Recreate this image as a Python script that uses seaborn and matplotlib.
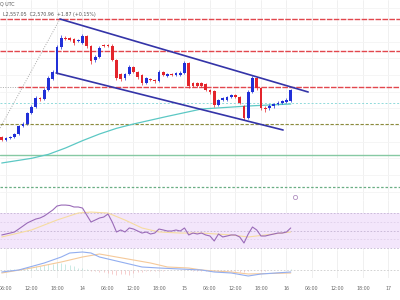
import matplotlib
matplotlib.use("Agg")
import pandas as pd
import seaborn as sns
import matplotlib.pyplot as plt

# hourly candles, hour counted from day 13 00:00 UTC
hours = list(range(5, 74))
opens = [2542.8, 2541.0, 2542.2, 2542.8, 2544.6, 2549.4, 2550.6, 2557.2, 2560.8, 2566.2,
         2565.6, 2571.0, 2577.6, 2581.2, 2596.8, 2602.2, 2602.2, 2601.6, 2600.4, 2599.2,
         2603.4, 2597.4, 2589.0, 2590.8, 2598.0, 2598.0, 2597.4, 2589.0, 2580.6, 2578.2,
         2580.6, 2584.8, 2581.8, 2580.0, 2575.2, 2577.6, 2577.0, 2576.4, 2581.8, 2579.4,
         2580.6, 2580.0, 2580.0, 2581.2, 2587.2, 2575.2, 2575.2, 2575.2, 2574.6, 2571.0,
         2570.4, 2562.0, 2565.0, 2565.0, 2566.8, 2568.0, 2566.8, 2561.4, 2554.2, 2569.8,
         2578.2, 2572.2, 2560.2, 2560.2, 2561.4, 2562.6, 2563.2, 2563.8, 2564.4]
closes = [2541.0, 2542.2, 2542.8, 2544.6, 2549.4, 2550.6, 2557.2, 2560.8, 2566.2, 2565.6,
          2571.0, 2578.2, 2581.8, 2596.8, 2602.2, 2601.6, 2601.0, 2599.2, 2601.0, 2603.4,
          2597.4, 2588.4, 2590.8, 2596.2, 2597.4, 2597.7, 2589.0, 2578.2, 2577.6, 2580.6,
          2584.8, 2581.8, 2578.8, 2575.2, 2578.2, 2577.0, 2576.4, 2581.8, 2580.0, 2580.6,
          2580.0, 2581.2, 2581.2, 2587.2, 2573.4, 2573.4, 2573.4, 2573.4, 2571.0, 2569.8,
          2562.0, 2565.0, 2566.2, 2566.8, 2568.0, 2566.8, 2563.2, 2554.2, 2569.8, 2578.2,
          2572.2, 2560.2, 2559.6, 2561.4, 2562.6, 2563.2, 2564.4, 2565.0, 2571.0]
highs = [2543.6, 2543.0, 2543.6, 2545.4, 2550.2, 2551.8, 2558.0, 2561.8, 2567.4, 2567.0,
         2572.0, 2579.2, 2582.8, 2598.0, 2604.0, 2603.2, 2603.0, 2602.4, 2601.8, 2604.6,
         2604.2, 2598.2, 2591.8, 2597.2, 2598.8, 2598.8, 2598.4, 2589.8, 2581.4, 2581.4,
         2585.8, 2585.6, 2582.6, 2580.8, 2579.0, 2578.4, 2577.8, 2582.8, 2582.6, 2581.4,
         2581.4, 2582.0, 2582.2, 2588.4, 2588.0, 2576.0, 2576.0, 2576.0, 2575.4, 2571.8,
         2571.2, 2565.8, 2567.0, 2567.6, 2568.8, 2568.8, 2567.6, 2562.2, 2570.8, 2579.4,
         2579.0, 2573.0, 2561.2, 2562.4, 2563.4, 2564.2, 2565.2, 2566.0, 2571.8]
lows = [2540.2, 2540.4, 2541.6, 2542.0, 2543.8, 2548.6, 2549.8, 2556.4, 2560.0, 2564.4,
        2564.8, 2570.2, 2576.8, 2580.4, 2595.6, 2600.8, 2600.2, 2598.2, 2599.6, 2598.4,
        2596.4, 2586.6, 2587.8, 2590.0, 2596.6, 2596.8, 2588.2, 2577.0, 2576.6, 2577.2,
        2579.8, 2581.0, 2577.8, 2574.2, 2574.4, 2576.2, 2575.4, 2575.6, 2579.2, 2578.6,
        2579.2, 2579.2, 2579.4, 2580.4, 2572.4, 2572.6, 2572.6, 2572.6, 2570.2, 2568.8,
        2561.0, 2561.2, 2564.2, 2564.2, 2566.0, 2566.0, 2562.4, 2552.8, 2553.4, 2569.0,
        2571.2, 2558.8, 2558.0, 2559.2, 2560.4, 2561.8, 2562.4, 2563.0, 2563.6]

# 100 hour moving average (sparse points)
ma_hours = [5, 12, 16, 20, 24, 28, 32, 36, 44, 52, 63, 73]
ma_values = [2527.2, 2530.0, 2532.4, 2536.2, 2540.6, 2544.6, 2548.0, 2550.6,
             2555.2, 2559.6, 2561.4, 2562.6]

# horizontal levels
red_levels = [2613.8, 2594.4, 2572.8]
cyan_level = 2563.2
olive_level = 2550.9
green_level = 2532.0
green_dot_level = 2512.8

# channel and fib guide
upper_channel = ([18.7, 77.1], [2613.6, 2569.8])
lower_channel = ([17.8, 71.2], [2581.2, 2547.0])
fib_guide = ([4.6, 18.7], [2548.2, 2613.6])

rsi = [44.9, 46.0, 47.1, 48.3, 51.7, 55.1, 58.6, 60.9, 63.1, 64.3,
       66.6, 70.0, 73.4, 78.0, 79.1, 79.1, 78.6, 76.9, 76.9, 75.7,
       67.7, 59.7, 62.0, 64.3, 65.4, 68.9, 59.7, 48.3, 50.6, 48.3,
       52.9, 51.7, 49.4, 47.1, 48.3, 46.0, 47.1, 51.7, 50.6, 49.4,
       49.4, 50.6, 49.4, 52.9, 44.9, 47.1, 46.0, 47.1, 44.9, 43.7,
       38.0, 46.0, 42.6, 43.7, 44.9, 44.9, 42.6, 35.7, 46.0, 54.0,
       50.6, 43.7, 43.7, 44.9, 46.0, 47.1, 47.1, 48.3, 52.9]
rsi_ma_hours = [5, 12, 18, 23, 26, 30, 34, 38, 42, 47, 52, 59, 63, 67, 73]
rsi_ma = [42.6, 50.6, 62.0, 70.0, 71.1, 70.0, 62.0, 52.9, 48.3, 47.1, 47.1, 44.9, 42.6,
          44.9, 48.3]

macd_hours = [5, 9, 15, 19, 21, 24, 26, 28, 31, 34, 38, 42, 47, 52, 55, 59, 63, 66, 73]
macd = [-1, 0, 3.5, 6.5, 8.5, 9, 8.5, 6.5, 5, 3.5, 1.5, 1, 0.5, 0, -1, -1.5, -3, -2, -1]
signal_hours = [5, 12, 19, 24, 28, 32, 36, 40, 44, 49, 52, 55, 59, 63, 73]
signal = [-1.5, 1, 4, 6.5, 8, 6.5, 5, 3.5, 1.5, 1, 0, -0.5, -1, -2, -1.5]
hist = [0, 0.2, 0.3, 0.5, 0.7,
        1.0, 1.3, 1.6, 1.9, 2.2, 2.5, 2.9, 3.2, 3.5, 3.3,
        2.8, 2.3, 1.8, 1.2, 0.8,
        0.3, -0.3, -0.6, -0.9, -1.2,
        -1.6, -2.0, -2.5, -2.2, -1.8, -2.4, -1.6, -1.2,
        -0.9, -0.7, -0.6, -0.4, -0.3, -0.3, -0.2, -0.2,
        -0.1, 0, 0, -0.2, -0.3, -0.3, -0.4, -0.5, -0.5,
        -0.6, -0.6, -0.5, -0.5, -0.5, -0.6, -0.8, -1.0, -0.5,
        0.2, 0.1, -0.3, -0.3, -0.2, -0.1, 0, 0.1, 0.1, 0.3]

tick_hours = list(range(6, 97, 6))
tick_labels = ["06:00", "12:00", "18:00", "14", "06:00", "12:00", "18:00", "15",
               "06:00", "12:00", "18:00", "16", "06:00", "12:00", "18:00", "17"]

sns.set_style("white")

candles = pd.DataFrame({"hour": hours, "open": opens, "close": closes,
                        "high": highs, "low": lows})
candles["up"] = candles["close"] >= candles["open"]

fig = plt.figure(figsize=(4, 3), dpi=100)
ax = fig.add_axes([0, 1 - 200 / 300, 1, 200 / 300])
ax_rsi = fig.add_axes([0, 1 - 250 / 300, 1, 50 / 300], sharex=ax)
ax_macd = fig.add_axes([0, 1 - 278 / 300, 1, 28 / 300], sharex=ax)

xlim = (4.59, 98.71)
for a in (ax, ax_rsi, ax_macd):
    for s in a.spines.values():
        s.set_visible(False)
    for t in tick_hours:
        a.axvline(t, color="#eeeeee", lw=0.6, zorder=0)
    a.tick_params(left=False, bottom=False, labelleft=False, labelbottom=False)
    a.set_xlabel("")
    a.set_ylabel("")

# main price panel
ax.set_ylim(2505, 2625)
for p in range(2510, 2625, 10):
    ax.axhline(p, color="#f4f4f4", lw=0.6, zorder=0)

red = "#e2474d"
ax.plot([xlim[0], 8.8], [red_levels[2]] * 2, color="#aaaaaa", lw=0.7, ls=(0, (1, 1.5)))
ax.axhline(red_levels[0], color=red, lw=1.0, ls=(0, (4, 1)))
ax.axhline(red_levels[1], color=red, lw=1.0, ls=(0, (4, 1)))
ax.plot([8.8, xlim[1]], [red_levels[2]] * 2, color=red, lw=1.0, ls=(0, (4, 1)))
ax.axhline(cyan_level, color="#8fdada", lw=0.7, ls=(0, (2, 2)))
ax.axhline(olive_level, color="#8c8c3c", lw=0.8, ls=(0, (3, 1.5)))
ax.axhline(green_level, color="#86c9a3", lw=1.0)
ax.axhline(green_dot_level, color="#6aae84", lw=0.9, ls=(0, (2, 1.5)))

ax.plot(*fib_guide, color="#aaaaaa", lw=0.7, ls=(0, (1, 1.5)))

sns.lineplot(x=ma_hours, y=ma_values, ax=ax, color="#5cc8c4", lw=0.9)

up = candles[candles["up"]]
down = candles[~candles["up"]]
for part, col in ((up, "#2130d8"), (down, "#e3242b")):
    ax.vlines(part["hour"], part["low"], part["high"], color=col, lw=0.5, zorder=3)
    ax.bar(part["hour"], (part["close"] - part["open"]).abs().clip(lower=0.4),
           bottom=part[["open", "close"]].min(axis=1), width=0.62, color=col,
           lw=0, zorder=4)

ax.plot(*upper_channel, color="#3434a8", lw=1.2, zorder=5)
ax.plot(*lower_channel, color="#3434a8", lw=1.2, zorder=5)

# RSI panel
ax_rsi.set_ylim(27.7, 84.9)
ax_rsi.axhspan(30, 70, color="#f3e6fb", lw=0, zorder=0)
for lvl in (70, 50, 30):
    ax_rsi.axhline(lvl, color="#c4b4d4", lw=0.6, ls=(0, (2, 2)))
for lvl in (60, 40):
    ax_rsi.axhline(lvl, color="#ded0ea", lw=0.6, ls=(0, (2, 2)))
sns.lineplot(x=rsi_ma_hours, y=rsi_ma, ax=ax_rsi, color="#f6dca0", lw=0.8)
sns.lineplot(x=hours, y=rsi, ax=ax_rsi, color="#9a6bb8", lw=0.8)

# MACD panel
ax_macd.set_ylim(-4, 10)
ax_macd.axhline(0, color="#cccccc", lw=0.6, ls=(0, (2, 2)))
hist_s = pd.Series(hist, index=hours)
ax_macd.vlines(hist_s.index[hist_s >= 0], 0, hist_s[hist_s >= 0], color="#a3dcd2", lw=0.4)
ax_macd.vlines(hist_s.index[hist_s < 0], 0, hist_s[hist_s < 0], color="#f2a8a8", lw=0.4)
sns.lineplot(x=signal_hours, y=signal, ax=ax_macd, color="#f5c99a", lw=0.8)
sns.lineplot(x=macd_hours, y=macd, ax=ax_macd, color="#92aef0", lw=0.8)

ax_macd.set_xlim(*xlim)
ax_macd.set_xticks(tick_hours)
ax_macd.set_xticklabels(tick_labels)
ax_macd.tick_params(labelbottom=True, bottom=False, pad=2.5, labelsize=3.4,
                    labelcolor="#666666")
ax_macd.set_xlabel("")
for a in (ax, ax_rsi):
    a.tick_params(labelbottom=False)
    a.set_xlabel("")

fig.text(0.0, 0.985, "Q UTC", fontsize=3.4, color="#555555", va="center")
fig.text(0.0075, 0.953, "L2,557.05  C2,570.96  +1.87 (+0.15%)", fontsize=3.4,
         color="#555555", va="center")
ax.plot([74.0], [2505 + 120 * 3 / 200], marker="o", ms=3, mfc="none", mec="#b090c0",
        mew=0.6, clip_on=False)

fig.savefig("out.png", dpi=100)
